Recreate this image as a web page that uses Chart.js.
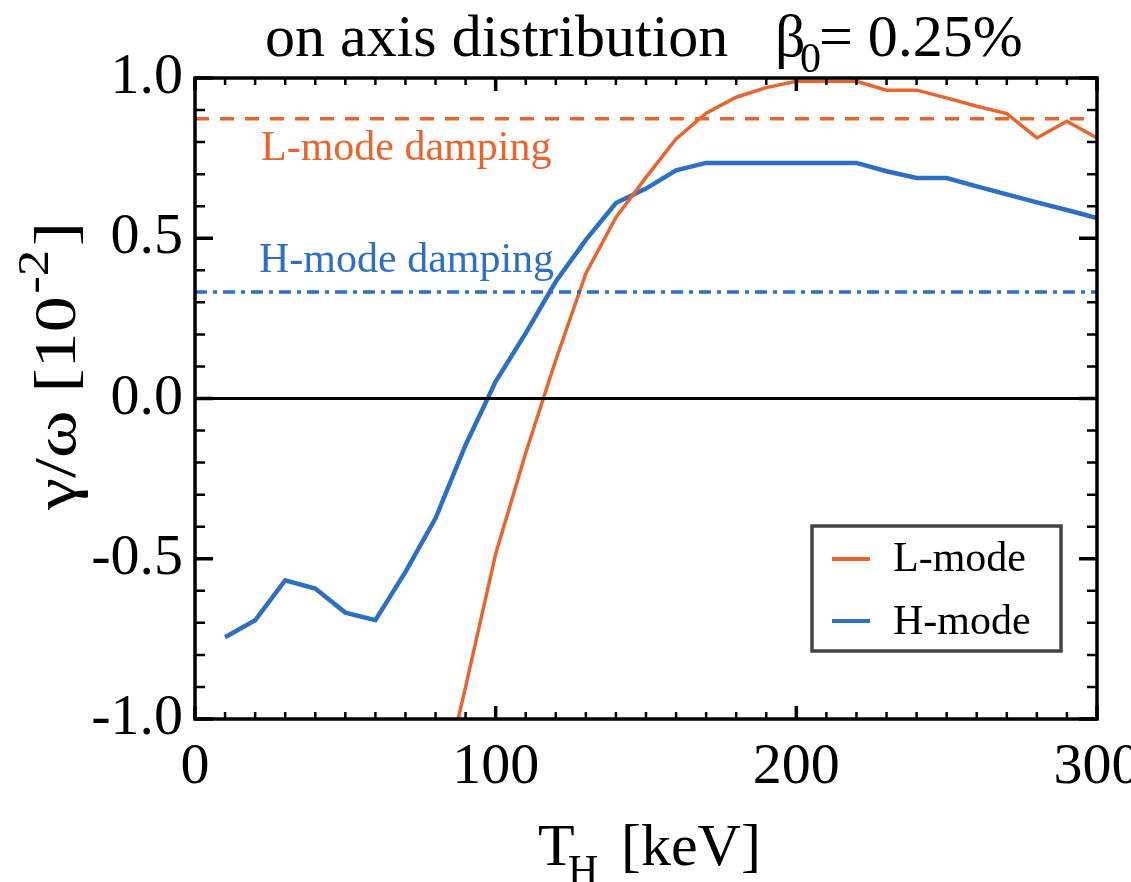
<!DOCTYPE html>
<html>
<head>
<meta charset="utf-8">
<script src="https://cdn.jsdelivr.net/npm/chart.js@4.4.1/dist/chart.umd.min.js"></script>
<style>
html,body{margin:0;padding:0;background:#fff;overflow:hidden;width:1131px;height:882px;}
canvas{display:block;}
</style>
</head>
<body>
<canvas id="c" width="1160" height="882"></canvas>
<script>
// ---- data ----
const tH = [10,20,30,40,50,60,70,80,90,100,110,120,130,140,150,160,170,180,190,200,210,220,230,240,250,260,270,280,290,300];
const lMode = [null,null,null,null,null,null,null,-1.30,-0.90,-0.485,-0.17,0.12,0.39,0.565,0.69,0.81,0.89,0.94,0.97,0.99,0.99,0.99,0.962,0.962,0.938,0.912,0.889,0.813,0.865,0.813];
const hMode = [-0.745,-0.692,-0.567,-0.593,-0.668,-0.692,-0.541,-0.374,-0.145,0.053,0.204,0.365,0.495,0.61,0.655,0.712,0.735,0.735,0.735,0.735,0.735,0.735,0.709,0.688,0.688,0.662,0.637,0.612,0.588,0.563];
const lDamping = 0.873;
const hDamping = 0.332;
const xTicks = [0,100,200,300];
const yTicks = [-1.0,-0.5,0.0,0.5,1.0];
const seriesNames = ['L-mode','H-mode'];

const ORANGE = '#e8652e';
const BLUE = '#2e6fc6';
const SERIF = '"Liberation Serif", "Times New Roman", serif';

const pts = (ys) => tH.map((x,i) => ({x:x, y:ys[i]}));
const hline = (v) => [{x:xTicks[0], y:v},{x:xTicks[xTicks.length-1], y:v}];

const frame = {
  id:'frame',
  afterDatasetsDraw(chart){
    const {ctx, chartArea:a, scales:{x, y}} = chart;
    ctx.save();
    ctx.strokeStyle = '#000';
    ctx.lineCap = 'butt';
    for (let v = 0; v <= 300; v += 10){
      const px = x.getPixelForValue(v);
      const major = v % 100 === 0;
      const len = major ? 13 : 7;
      ctx.lineWidth = major ? 3.5 : 2.5;
      ctx.beginPath();
      ctx.moveTo(px, a.bottom); ctx.lineTo(px, a.bottom - len);
      ctx.moveTo(px, a.top); ctx.lineTo(px, a.top + len);
      ctx.stroke();
    }
    for (let k = -10; k <= 10; k++){
      const v = k/10;
      const py = y.getPixelForValue(v);
      const major = k % 5 === 0;
      const len = major ? 18 : 10;
      ctx.lineWidth = major ? 3.5 : 2.5;
      ctx.beginPath();
      ctx.moveTo(a.left, py); ctx.lineTo(a.left + len, py);
      ctx.moveTo(a.right, py); ctx.lineTo(a.right - len, py);
      ctx.stroke();
    }
    // zero line
    ctx.lineWidth = 3;
    const y0 = y.getPixelForValue(0);
    ctx.beginPath(); ctx.moveTo(a.left, y0); ctx.lineTo(a.right, y0); ctx.stroke();
    // frame
    ctx.lineWidth = 3.5;
    ctx.strokeRect(a.left, a.top, a.right - a.left, a.bottom - a.top);

    // in-plot annotations
    ctx.font = '42px ' + SERIF;
    ctx.textBaseline = 'alphabetic';
    ctx.textAlign = 'left';
    ctx.fillStyle = ORANGE;
    ctx.fillText('L-mode damping', 261, 160);
    ctx.fillStyle = BLUE;
    ctx.fillText('H-mode damping', 259, 272);

    // legend
    ctx.fillStyle = '#fff';
    ctx.fillRect(812, 526, 249, 125);
    ctx.strokeStyle = '#444';
    ctx.lineWidth = 3.5;
    ctx.strokeRect(812, 526, 249, 125);
    const legendItems = [{name:seriesNames[0], color:ORANGE, y:559, base:571},{name:seriesNames[1], color:BLUE, y:621, base:634}];
    legendItems.forEach(it => {
      ctx.strokeStyle = it.color; ctx.lineWidth = 4;
      ctx.beginPath(); ctx.moveTo(832, it.y); ctx.lineTo(870, it.y); ctx.stroke();
      ctx.fillStyle = '#000';
      ctx.fillText(it.name, 893, it.base);
    });
    ctx.restore();
  },
  afterDraw(chart){
    const ctx = chart.ctx;
    ctx.save();
    ctx.fillStyle = '#000';
    ctx.textBaseline = 'alphabetic';
    ctx.textAlign = 'left';
    // title
    ctx.font = '60px ' + SERIF;
    ctx.fillText('on axis distribution', 265, 56);
    ctx.fillText('\u03b2', 775, 56);
    ctx.font = '42px ' + SERIF;
    ctx.fillText('0', 800, 72);
    ctx.font = '60px ' + SERIF;
    ctx.fillText('= 0.25%', 819, 56);
    // x title
    ctx.fillText('T', 538, 865);
    ctx.font = '42px ' + SERIF;
    ctx.fillText('H', 568, 884);
    ctx.font = '60px ' + SERIF;
    ctx.fillText('[keV]', 621, 865);
    // y title (rotated), composite fitted between y=510 and y=222
    const p1 = '\u03b3/\u03c9 [10', p2 = '-2', p3 = ']';
    ctx.font = '60px ' + SERIF; const w1 = ctx.measureText(p1).width, w3 = ctx.measureText(p3).width;
    ctx.font = '44px ' + SERIF; const w2 = ctx.measureText(p2).width;
    const total = w1 + 2 + w2 + 3 + w3;
    const sx = (510 - 222) / total;
    ctx.translate(75, 510);
    ctx.rotate(-Math.PI/2);
    ctx.scale(sx, 1);
    ctx.font = '60px ' + SERIF;
    ctx.fillText(p1, 0, 0);
    ctx.font = '44px ' + SERIF;
    ctx.fillText(p2, w1 + 2, -27);
    ctx.font = '60px ' + SERIF;
    ctx.fillText(p3, w1 + 2 + w2 + 3, 0);
    ctx.restore();
  }
};

new Chart(document.getElementById('c'), {
  type: 'line',
  data: {
    datasets: [
      {label:'L-mode damping', data: hline(lDamping), borderColor: ORANGE, borderWidth: 3.5, borderDash:[14,11], pointRadius:0, fill:false},
      {label:'H-mode damping', data: hline(hDamping), borderColor: BLUE, borderWidth: 3.5, borderDash:[12,6,4,6], pointRadius:0, fill:false},
      {label: seriesNames[0], data: pts(lMode), borderColor: ORANGE, borderWidth: 3.5, pointRadius:0, tension:0, fill:false, spanGaps:false},
      {label: seriesNames[1], data: pts(hMode), borderColor: BLUE, borderWidth: 4.5, pointRadius:0, tension:0, fill:false}
    ]
  },
  options: {
    responsive: false,
    animation: false,
    devicePixelRatio: 1,
    layout: {padding: {left: 0, top: 78, right: 63, bottom: 0}},
    plugins: {legend:{display:false}, tooltip:{enabled:false}, title:{display:false}},
    scales: {
      x: {
        type:'linear', min: xTicks[0], max: xTicks[xTicks.length-1],
        afterBuildTicks: (s) => { s.ticks = xTicks.map(v => ({value:v})); },
        afterFit: (s) => { s.height = 163; },
        grid: {display:false, drawTicks:false},
        border: {display:false},
        ticks: {color:'#000', font:{family:'Liberation Serif', size:58}, padding: 14, maxRotation:0, autoSkip:false,
          callback: (v) => String(v)}
      },
      y: {
        type:'linear', min: yTicks[0], max: yTicks[yTicks.length-1],
        afterBuildTicks: (s) => { s.ticks = yTicks.map(v => ({value:v})); },
        afterFit: (s) => { s.width = 195; },
        grid: {display:false, drawTicks:false},
        border: {display:false},
        ticks: {color:'#000', font:{family:'Liberation Serif', size:58}, padding: 12,
          callback: (v) => Number(v).toFixed(1)}
      }
    }
  },
  plugins: [frame]
});
</script>
</body>
</html>
